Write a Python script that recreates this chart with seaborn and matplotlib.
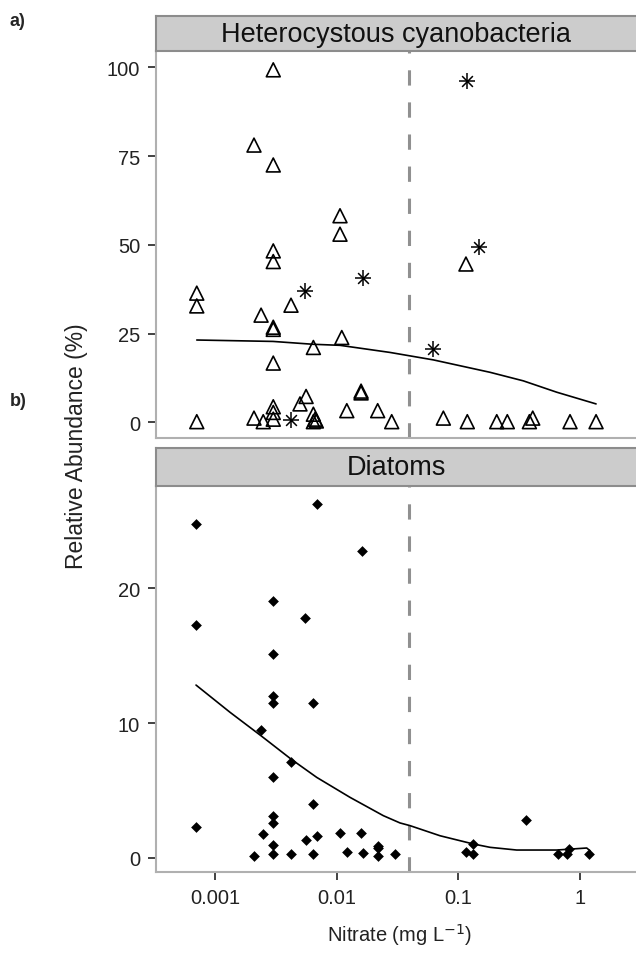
import numpy as np
import pandas as pd
import matplotlib
matplotlib.use("Agg")
import matplotlib.pyplot as plt
import seaborn as sns

# ---- panel a: heterocystous cyanobacteria ----
tri_x = [0.00301, 0.00209, 0.00301, 0.01064, 0.01064, 0.00301, 0.00301,
         0.000708, 0.000708, 0.00421, 0.00239, 0.00301, 0.00301, 0.0110,
         0.00643, 0.00301, 0.0056, 0.00499, 0.00301, 0.00301, 0.00301,
         0.00209, 0.00249, 0.000708, 0.00643, 0.00665, 0.0068, 0.00643,
         0.01585, 0.01585, 0.0121, 0.0217, 0.0283, 0.1153, 0.0752, 0.1183,
         0.2065, 0.2522, 0.383, 0.408, 0.826, 1.352]
tri_y = [99.3, 78.1, 72.5, 58.2, 53.0, 48.3, 45.3,
         36.4, 32.8, 33.0, 30.2, 26.8, 26.2, 23.9,
         21.1, 16.7, 7.3, 5.2, 4.4, 2.8, 0.9,
         1.2, 0.2, 0.2, 2.3, 0.9, 0.4, 0.2,
         8.8, 8.3, 3.3, 3.3, 0.2, 44.6, 1.2, 0.2,
         0.2, 0.2, 0.2, 1.2, 0.2, 0.2]
ast_x = [0.117, 0.1486, 0.00549, 0.01656, 0.0622, 0.00421]
ast_y = [96.2, 49.3, 37.1, 40.8, 20.8, 0.7]
curve_a_x = [0.000708, 0.0030, 0.00638, 0.01064, 0.0274, 0.0622, 0.182,
             0.341, 0.642, 1.352]
curve_a_y = [23.2, 22.8, 22.0, 21.7, 19.7, 17.6, 14.1, 11.7, 8.5, 5.2]

# ---- panel b: diatoms ----
dia_x = [0.000698, 0.00694, 0.01614, 0.00301, 0.000698, 0.00552, 0.00301,
         0.00301, 0.00301, 0.00643, 0.00239, 0.00421, 0.00301, 0.00643,
         0.00301, 0.00301, 0.000698, 0.00249, 0.0056, 0.00684, 0.01064,
         0.01585, 0.00301, 0.0217, 0.00209, 0.00301, 0.00421, 0.00643,
         0.0121, 0.01656, 0.0217, 0.0217, 0.0301, 0.359, 0.1153, 0.133,
         0.133, 0.662, 0.776, 0.815, 1.19]
dia_y = [24.8, 26.3, 22.8, 19.1, 17.3, 17.8, 15.1,
         12.0, 11.5, 11.5, 9.5, 7.1, 6.0, 4.0,
         3.1, 2.6, 2.3, 1.8, 1.3, 1.65, 1.85,
         1.85, 1.0, 0.87, 0.13, 0.3, 0.3, 0.3,
         0.47, 0.35, 0.17, 0.75, 0.3, 2.8, 0.47, 0.3,
         1.04, 0.3, 0.3, 0.67, 0.3]
curve_b_x = [0.000698, 0.001328, 0.002387, 0.00421, 0.00685, 0.01285,
             0.02415, 0.0331, 0.0400, 0.0706, 0.1324, 0.182, 0.301, 0.642,
             1.133, 1.205]
curve_b_y = [12.83, 10.81, 9.07, 7.34, 5.98, 4.50,
             3.14, 2.60, 2.40, 1.65, 1.04, 0.79, 0.59, 0.59,
             0.74, 0.54]

threshold = 0.0395
x_ticks = [0.001, 0.01, 0.1, 1]
x_ticklabels = ["0.001", "0.01", "0.1", "1"]
ya_ticks = [0, 25, 50, 75, 100]
yb_ticks = [0, 10, 20]

sns.set_theme(style="ticks")
plt.rcParams['font.family'] = ['Liberation Sans', 'DejaVu Sans']

W, H = 636, 962
fig = plt.figure(figsize=(W / 100, H / 100), dpi=100)

def fx(px):
    return px / W

def fy(py):
    return 1 - py / H

left, right = 156, 640
ax1 = fig.add_axes([fx(left), fy(439), fx(right - left), (439 - 52) / H])
st1 = fig.add_axes([fx(left), fy(52), fx(right - left), (52 - 17) / H])
ax2 = fig.add_axes([fx(left), fy(873), fx(right - left), (873 - 487) / H])
st2 = fig.add_axes([fx(left), fy(487), fx(right - left), (487 - 449) / H])

xlim = (10 ** -3.485, 10 ** 0.492)

df_tri = pd.DataFrame({"x": tri_x, "y": tri_y})
df_ast = pd.DataFrame({"x": ast_x, "y": ast_y})
df_dia = pd.DataFrame({"x": dia_x, "y": dia_y})
df_ca = pd.DataFrame({"x": curve_a_x, "y": curve_a_y})
df_cb = pd.DataFrame({"x": curve_b_x, "y": curve_b_y})

for ax in (ax1, ax2):
    ax.set_xscale("log")
    ax.axvline(threshold, color="#909090", lw=2.2, ls=(0, (5, 5.5)), zorder=1)

sns.lineplot(data=df_ca, x="x", y="y", ax=ax1, color="black", lw=1.2,
             sort=False, estimator=None, zorder=2)
sns.scatterplot(data=df_tri, x="x", y="y", ax=ax1, marker="^", s=100,
                facecolor="none", edgecolor="black", linewidth=1.2, zorder=3)
sns.scatterplot(data=df_ast, x="x", y="y", ax=ax1, marker="+", s=120,
                color="black", linewidth=1.1, zorder=3)
sns.scatterplot(data=df_ast, x="x", y="y", ax=ax1, marker="x", s=60,
                color="black", linewidth=1.1, zorder=3)

sns.lineplot(data=df_cb, x="x", y="y", ax=ax2, color="black", lw=1.2,
             sort=False, estimator=None, zorder=2)
sns.scatterplot(data=df_dia, x="x", y="y", ax=ax2, marker="D", s=30,
                color="black", linewidth=0, zorder=3)

ax1.set_ylim(-4.4, 104.6)
ax2.set_ylim(-1.04, 27.6)
ax1.set_yticks(ya_ticks)
ax2.set_yticks(yb_ticks)

for ax in (ax1, ax2):
    ax.set_xlim(*xlim)
    ax.set_xlabel("")
    ax.set_ylabel("")
    ax.minorticks_off()
    for s in ("top", "right"):
        ax.spines[s].set_visible(False)
    for s in ("left", "bottom"):
        ax.spines[s].set_color("#b0b0b0")
        ax.spines[s].set_linewidth(1.5)
    ax.tick_params(axis="both", length=5.5, width=1.3, color="#333333",
                   labelsize=14.5, labelcolor="#222222", pad=6)

ax1.set_xticks([])
ax2.set_xticks(x_ticks)
ax2.set_xticklabels(x_ticklabels)

for st, title in ((st1, "Heterocystous cyanobacteria"), (st2, "Diatoms")):
    st.set_facecolor("#cccccc")
    st.set_xticks([])
    st.set_yticks([])
    for s in st.spines.values():
        s.set_color("#8c8c8c")
        s.set_linewidth(1.5)
    st.text(0.496, 0.5, title, transform=st.transAxes, ha="center",
            va="center", fontsize=19.5, color="#111111")

fig.text(fx(76), fy(446), "Relative Abundance (%)", rotation=90,
         ha="center", va="center", fontsize=16.5, color="#222222")
fig.text(fx(400), fy(935), "Nitrate (mg L$^{-1}$)", ha="center",
         va="center", fontsize=14.5, color="#222222")
fig.text(fx(10), fy(22), "a)", fontsize=13, fontweight="bold",
         ha="left", va="center")
fig.text(fx(10), fy(401), "b)", fontsize=13, fontweight="bold",
         ha="left", va="center")

fig.savefig("out.png", dpi=100)
